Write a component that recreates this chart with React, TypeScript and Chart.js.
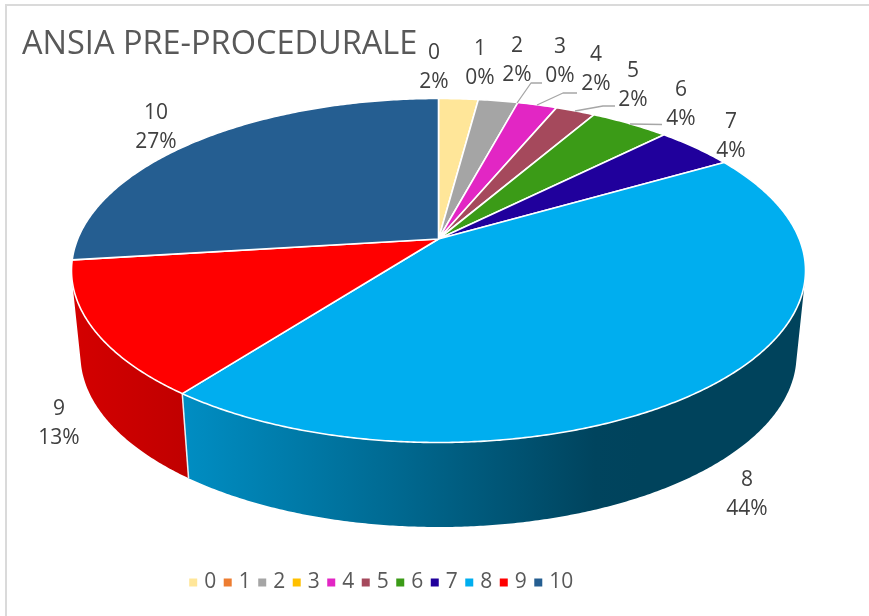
import React, { useEffect, useRef } from "react";
import { Chart, registerables } from "chart.js";

Chart.register(...registerables);

const categories = ["0", "1", "2", "3", "4", "5", "6", "7", "8", "9", "10"];
const percents = [2, 0, 2, 0, 2, 2, 4, 4, 44, 13, 27];
const sliceColors = ["#FFE699", "#ED7D31", "#A5A5A5", "#FFC000", "#E226C4", "#A5495C", "#3B9B17", "#20009C", "#00AEEF", "#FF0000", "#255E91"];
const chartTitle = "ANSIA PRE-PROCEDURALE";

const labelAnchors: [number, number][] = [
  [434, 53], [480, 49], [517, 46], [560, 47], [596, 55], [633, 71],
  [681, 90], [731, 122], [747, 480], [59, 409], [156, 113],
];
const leaders: [number, number][][] = [
  [[517, 103], [531, 83], [542, 83]],
  [[537, 105], [563, 93], [577, 93]],
  [[575, 111], [603, 106], [615, 106]],
  [[630, 124], [662, 124.5]],
];

const FONT = '"Open Sans", sans-serif';
const apex = { x: 438.5, y: 239 };
const topRim = { cx: 438.5, cy: 270.5, rx: 367, ry: 172 };
const baseRim = { cx: 438.5, cy: 355, rx: 358, ry: 172 };
const WALL_FROM = 92.9;
const WALL_TO = 267.1;

const rad = (d: number) => (d * Math.PI) / 180;
// The reference's perspective pushes slice boundaries around the rim.
const warp = (deg: number) =>
  deg <= 180
    ? deg - 7.7 * Math.sin(rad(deg))
    : deg + 10.8 * Math.sqrt(Math.max(0, Math.sin(rad(deg - 180))));
const rimPoint = (r: typeof topRim, deg: number): [number, number] => [
  r.cx + r.rx * Math.sin(rad(deg)),
  r.cy - r.ry * Math.cos(rad(deg)),
];
const traceRim = (ctx: CanvasRenderingContext2D, r: typeof topRim, from: number, to: number) => {
  const steps = Math.max(2, Math.ceil(Math.abs(to - from) * 2));
  for (let i = 0; i <= steps; i++) {
    const [x, y] = rimPoint(r, from + ((to - from) * i) / steps);
    ctx.lineTo(x, y);
  }
};

const pie3d = {
  id: "pie3d",
  beforeDraw(chart: any) {
    const { ctx, width, height } = chart;
    ctx.save();
    ctx.fillStyle = "#ffffff";
    ctx.fillRect(0, 0, width, height);
    ctx.strokeStyle = "#DADADA";
    ctx.lineWidth = 2;
    ctx.beginPath();
    ctx.moveTo(6, height);
    ctx.lineTo(6, 5);
    ctx.lineTo(width, 5);
    ctx.stroke();
    ctx.restore();
  },
  beforeDatasetDraw(chart: any) {
    const { ctx } = chart;
    const arcs = chart.getDatasetMeta(0).data;
    const spans = arcs.map((a: any) => {
      const p = a.getProps(["startAngle", "endAngle"], true);
      const s = ((p.startAngle + Math.PI / 2) * 180) / Math.PI;
      const e = ((p.endAngle + Math.PI / 2) * 180) / Math.PI;
      return [warp(s), warp(e)];
    });
    ctx.save();
    ctx.lineJoin = "round";

    // side walls
    const gradients: Record<number, CanvasGradient> = {};
    const blue = ctx.createLinearGradient(187, 0, 640, 0);
    blue.addColorStop(0, "#008DC2");
    blue.addColorStop(0.45, "#006A92");
    blue.addColorStop(0.9, "#00445E");
    blue.addColorStop(1, "#00435C");
    gradients[8] = blue;
    const red = ctx.createLinearGradient(75, 0, 187, 0);
    red.addColorStop(0, "#D40000");
    red.addColorStop(1, "#C00000");
    gradients[9] = red;
    spans.forEach(([s, e]: number[], i: number) => {
      const from = Math.max(s, WALL_FROM);
      const to = Math.min(e, WALL_TO);
      if (to <= from) return;
      ctx.beginPath();
      const [sx, sy] = rimPoint(topRim, from);
      ctx.moveTo(sx, sy);
      traceRim(ctx, topRim, from, to);
      traceRim(ctx, baseRim, to, from);
      ctx.closePath();
      ctx.fillStyle = gradients[i] ?? sliceColors[i];
      ctx.fill();
    });
    spans.forEach(([s, e]: number[]) => {
      if (e > WALL_FROM && e < WALL_TO) {
        const a = rimPoint(topRim, e);
        const b = rimPoint(baseRim, e);
        ctx.beginPath();
        ctx.moveTo(a[0], a[1]);
        ctx.lineTo(b[0], b[1]);
        ctx.strokeStyle = "#E8F0F4";
        ctx.lineWidth = 1.5;
        ctx.stroke();
      }
    });

    // top faces
    spans.forEach(([s, e]: number[], i: number) => {
      if (e - s <= 0) return;
      ctx.beginPath();
      ctx.moveTo(apex.x, apex.y);
      traceRim(ctx, topRim, s, e);
      ctx.closePath();
      ctx.fillStyle = sliceColors[i];
      ctx.fill();
      ctx.strokeStyle = "#ffffff";
      ctx.lineWidth = 1.6;
      ctx.stroke();
    });

    // leader lines
    ctx.strokeStyle = "#A6A6A6";
    ctx.lineWidth = 1.3;
    leaders.forEach((pts) => {
      ctx.beginPath();
      pts.forEach(([x, y], i) => (i ? ctx.lineTo(x, y) : ctx.moveTo(x, y)));
      ctx.stroke();
    });

    // data labels
    ctx.fillStyle = "#404040";
    ctx.font = `21px ${FONT}`;
    ctx.textAlign = "center";
    ctx.textBaseline = "middle";
    categories.forEach((c, i) => {
      const [x, y] = labelAnchors[i];
      ctx.fillText(c, x, y);
      ctx.fillText(`${percents[i]}%`, x, y + 29.5);
    });
    ctx.restore();
    return false;
  },
};

export default function App() {
  const ref = useRef<HTMLCanvasElement>(null);
  useEffect(() => {
    document.body.style.margin = "0";
    const chart = new Chart(ref.current as HTMLCanvasElement, {
      type: "pie",
      data: {
        labels: categories,
        datasets: [{ data: percents, backgroundColor: sliceColors, borderWidth: 0 }],
      },
      plugins: [pie3d],
      options: {
        responsive: false,
        animation: false,
        layout: { padding: { top: 25, left: 22, right: 125, bottom: 13 } },
        plugins: {
          tooltip: { enabled: false },
          title: {
            display: true,
            text: chartTitle,
            align: "start",
            color: "#595959",
            padding: 0,
            font: { family: FONT, size: 32.5, weight: "normal" },
          },
          legend: {
            position: "bottom",
            labels: {
              usePointStyle: true,
              pointStyle: "rect",
              boxWidth: 1,
              boxHeight: 8,
              padding: 11,
              color: "#595959",
              font: { family: FONT, size: 21 },
            },
          },
        },
      },
    } as any);
    return () => chart.destroy();
  }, []);
  return <canvas ref={ref} width={869} height={616} style={{ display: "block" }} />;
}
